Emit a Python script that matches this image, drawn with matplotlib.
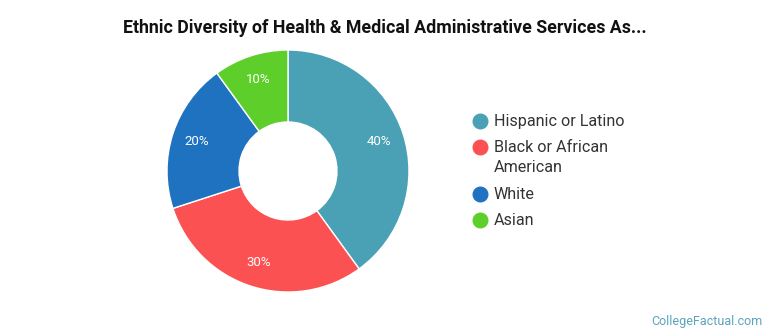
import matplotlib
matplotlib.use("Agg")
import matplotlib.pyplot as plt
from matplotlib.lines import Line2D
import numpy as np

plt.rcParams['font.family'] = ['Roboto', 'DejaVu Sans']

title = "Ethnic Diversity of Health & Medical Administrative Services As..."
categories = ["Hispanic or Latino", "Black or African\nAmerican", "White", "Asian"]
shares = [40, 30, 20, 10]
colors = ["#4aa1b5", "#fc5152", "#1f72bf", "#5ecf2a"]

W, H = 770, 335
fig = plt.figure(figsize=(W / 100, H / 100), dpi=100)

cx, cy, R = 288, 171, 121
ax = fig.add_axes([(cx - R) / W, 1 - (cy + R) / H, 2 * R / W, 2 * R / H])
wedges, _ = ax.pie(
    shares, colors=colors, startangle=90, counterclock=False, radius=1.0,
    wedgeprops=dict(width=0.595, edgecolor="white", linewidth=1.0),
)
for w, v in zip(wedges, shares):
    ang = np.deg2rad((w.theta1 + w.theta2) / 2)
    r = 0.795
    ax.text(r * np.cos(ang), r * np.sin(ang), f"{v}%", ha="center", va="center",
            color="white", fontsize=9.5)
ax.set_xlim(-1, 1)
ax.set_ylim(-1, 1)
ax.set_aspect("equal")
ax.axis("off")

fig.text(0.5, 1 - 28 / H, title, ha="center", va="center", fontsize=12.8,
         fontweight="bold", color="#111111")

# legend
ys = [121, 147, 194, 220]
for lab, col, y in zip(categories, colors, ys):
    fig.add_artist(Line2D([480 / W], [1 - y / H], marker="o", markersize=10.5,
                          color=col, linestyle="none", transform=fig.transFigure))
    fig.text(494 / W, 1 - (y - 7) / H, lab, ha="left", va="top", fontsize=11.6,
             color="#333333", linespacing=1.42)

fig.text(763 / W, 1 - 321 / H, "CollegeFactual.com", ha="right", va="center",
         fontsize=9, color="#5aa3bf")

fig.savefig("out.png", dpi=100, facecolor="white")
